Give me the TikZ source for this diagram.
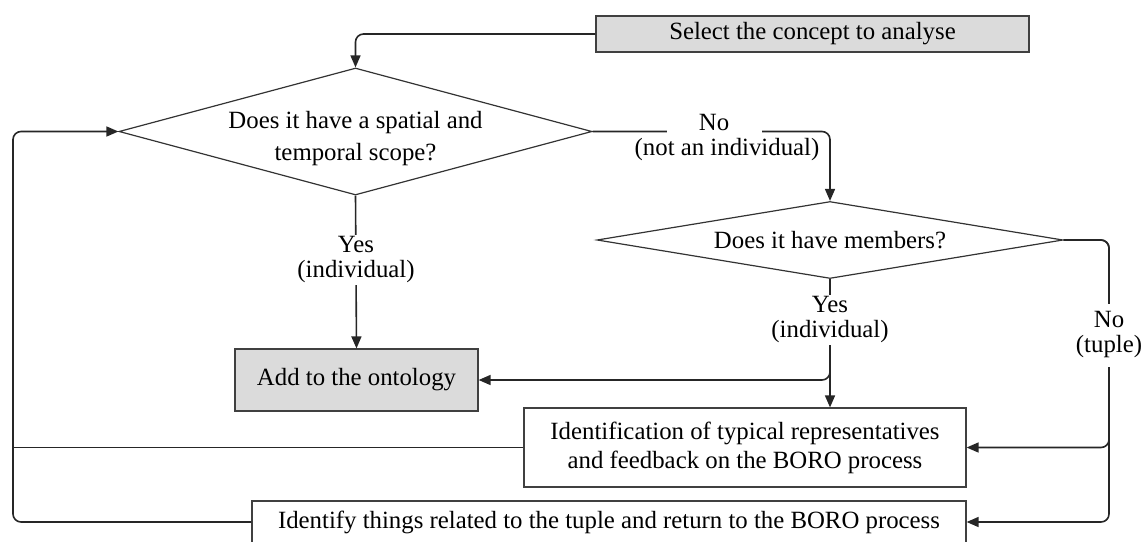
\documentclass[tikz,border=0pt]{standalone}
\usepackage{fontspec}
\setmainfont{Liberation Serif}
\usetikzlibrary{shapes.geometric,arrows.meta}
\begin{document}
\begin{tikzpicture}[x=0.5pt,y=-0.5pt,
  font=\fontsize{12.4}{14.5}\selectfont,
  ln/.style={draw=black!85, line width=0.8pt},
  arr/.style={ln, -{Triangle[length=6pt,width=5pt]}},
  box/.style={draw=black!75, line width=0.6pt, inner sep=0pt, align=center},
  gbox/.style={box, fill=black!14},
  dia/.style={diamond, draw=black!80, line width=0.6pt, inner sep=0pt, align=center},
  lbl/.style={align=center, font=\fontsize{12.4}{12.5}\selectfont, inner sep=1pt},
  rc/.style={rounded corners=4pt}]
\useasboundingbox (0,0) rectangle (1144,541);
\clip (0,0) rectangle (1144,541);

% nodes
\node[gbox, minimum width=216.5pt, minimum height=18pt] (sel) at (812.5,34) {Select the concept to analyse};
\node[dia, minimum width=236.5pt, minimum height=63.5pt, aspect=3.72,
      label={[align=center, font=\fontsize{12.4}{16}\selectfont, yshift=-3.5pt]center:Does it have a spatial and\\temporal scope?}] (d1) at (355.5,131.5) {};
\node[dia, minimum width=233pt, minimum height=38.5pt, aspect=6] (d2) at (830,240) {Does it have members?};
\node[gbox, minimum width=121.5pt, minimum height=31pt] (add) at (356.5,380) {Add to the ontology};
\node[box, minimum width=221pt, minimum height=39.5pt] (ident) at (745,447.5) {Identification of typical representatives\\and feedback on the BORO process};
\node[box, minimum width=357pt, minimum height=21pt] (tup) at (609,522) {Identify things related to the tuple and return to the BORO process};

\coordinate (L) at (13,300);
\coordinate (R) at (1109,300);

% connectors
\draw[arr, rc] (sel.west) -| (d1.north);
\draw[arr, rc] (tup.west) -- (tup.west -| L) -- (d1.west -| L) -- (d1.west);
\draw[ln] (ident.west) -- (ident.west -| L);
\draw[arr, rc] (d1.east) -| (d2.north);
\draw[arr] (d1.south) -- (add.north);
\draw[arr] (d2.south) -- (d2.south |- ident.north);
\draw[arr, rc] (d2.south) |- (add.east);
\draw[arr, rc] (d2.east) -- (d2.east -| R) -- (ident.east -| R) -- (ident.east);
\draw[arr, rc] (d2.east) -- (d2.east -| R) -- (tup.east -| R) -- (tup.east);

% labels
\node[lbl, fill=white, minimum width=47.5pt, minimum height=14pt] (no1) at (714,122) {No};
\node[lbl] (no1b) at (727,150) {(not an individual)};
\node[lbl, fill=white] (yes1) at (356,260) {Yes\\(individual)};
\node[lbl, fill=white] (yes2) at (830,320) {Yes\\(individual)};
\node[lbl, fill=white, minimum height=31.5pt] (no2) at (1109,335) {No\\(tuple)};
\end{tikzpicture}
\end{document}
